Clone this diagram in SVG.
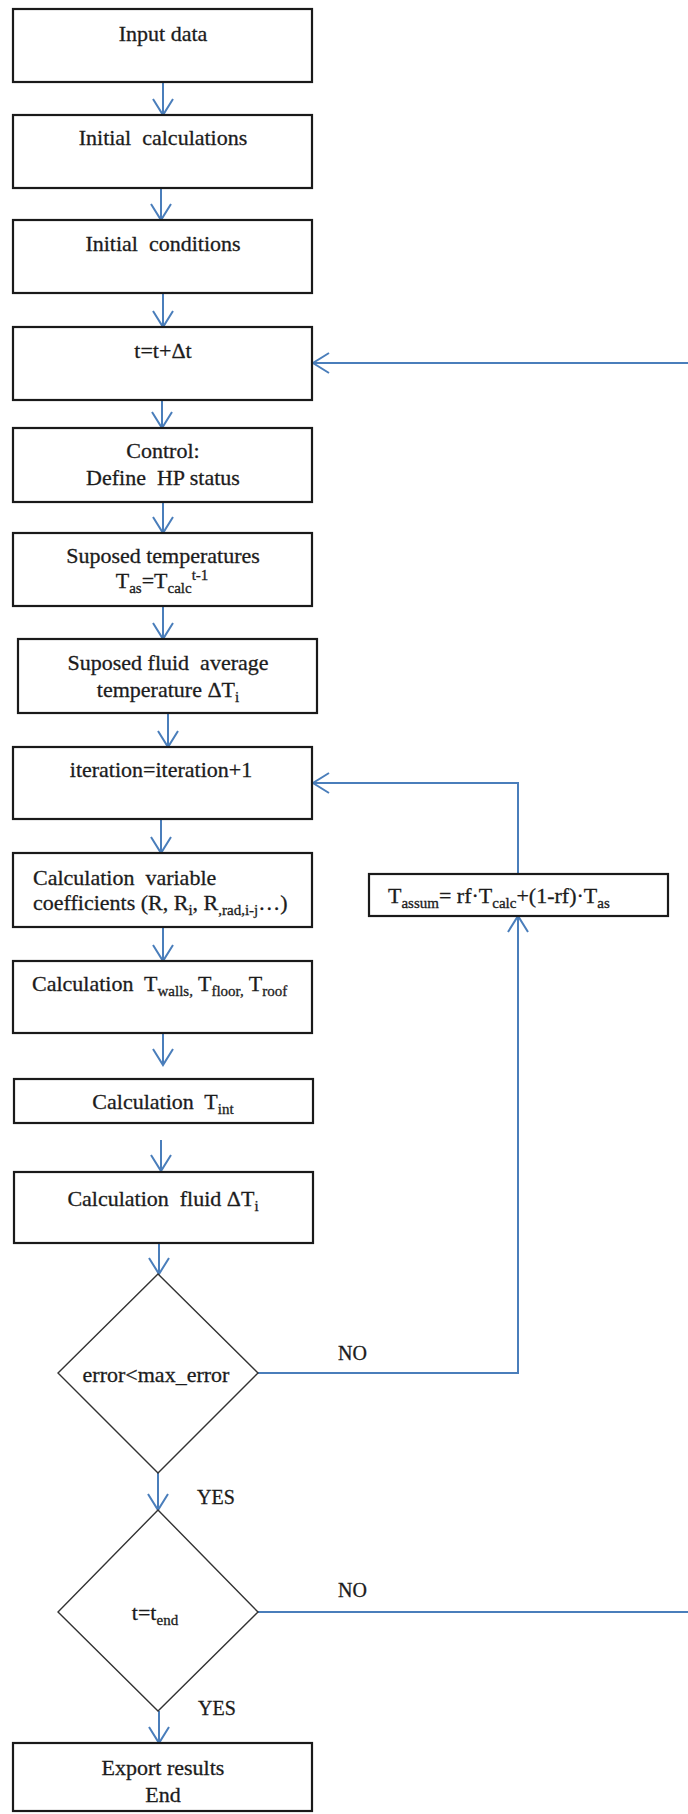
<svg xmlns="http://www.w3.org/2000/svg" width="688" height="1814" viewBox="0 0 688 1814">
<style>
.box{fill:#fff;stroke:#1a1a1a;stroke-width:2.2}
.dia{fill:#fff;stroke:#333;stroke-width:1.4}
text{font-family:'Liberation Serif','Times New Roman',serif;fill:#1c1c1c;stroke:#1c1c1c;stroke-width:0.3}
.t{font-size:22px}
.c{text-anchor:middle}
.lbl{font-size:20px}
.s{font-size:15px}
.conn{fill:none;stroke:#4a7ebb;stroke-width:2}
</style>
<defs>
<marker id="ah" markerUnits="userSpaceOnUse" markerWidth="22" markerHeight="24" refX="18" refY="12" orient="auto" viewBox="0 0 22 24">
<path d="M2,2 L18,12 L2,22" fill="none" stroke="#4a7ebb" stroke-width="2"/>
</marker>
</defs>
<rect width="688" height="1814" fill="#fff"/>

<g id="connectors">
<line class="conn" x1="163" y1="82" x2="163" y2="115" marker-end="url(#ah)"/>
<line class="conn" x1="161" y1="188" x2="161" y2="220" marker-end="url(#ah)"/>
<line class="conn" x1="163" y1="293" x2="163" y2="327" marker-end="url(#ah)"/>
<line class="conn" x1="162" y1="400" x2="162" y2="428" marker-end="url(#ah)"/>
<line class="conn" x1="163" y1="502" x2="163" y2="533" marker-end="url(#ah)"/>
<line class="conn" x1="163" y1="606" x2="163" y2="639" marker-end="url(#ah)"/>
<line class="conn" x1="168" y1="713" x2="168" y2="747" marker-end="url(#ah)"/>
<line class="conn" x1="161" y1="819" x2="161" y2="853" marker-end="url(#ah)"/>
<line class="conn" x1="163" y1="927" x2="163" y2="961" marker-end="url(#ah)"/>
<line class="conn" x1="163" y1="1033" x2="163" y2="1065" marker-end="url(#ah)"/>
<line class="conn" x1="161" y1="1140" x2="161" y2="1171" marker-end="url(#ah)"/>
<line class="conn" x1="159" y1="1243" x2="159" y2="1274" marker-end="url(#ah)"/>
<line class="conn" x1="158" y1="1473" x2="158" y2="1510" marker-end="url(#ah)"/>
<line class="conn" x1="159" y1="1711" x2="159" y2="1743" marker-end="url(#ah)"/>
<line class="conn" x1="688" y1="363" x2="313" y2="363" marker-end="url(#ah)"/>
<path class="conn" d="M258,1373 H518 V916" marker-end="url(#ah)"/>
<path class="conn" d="M518,874 V783 H313" marker-end="url(#ah)"/>
<line class="conn" x1="258" y1="1612" x2="688" y2="1612"/>
<text class="lbl" x="338" y="1360">NO</text>
<text class="lbl" x="338" y="1597">NO</text>
<text class="lbl" x="197" y="1504">YES</text>
<text class="lbl" x="198" y="1715">YES</text>
</g>

<g id="n1"><rect class="box" x="13" y="9" width="299" height="73"/><text class="t c" x="163" y="41">Input data</text></g>
<g id="n2"><rect class="box" x="13" y="115" width="299" height="73"/><text class="t c" x="163" y="145" xml:space="preserve">Initial  calculations</text></g>
<g id="n3"><rect class="box" x="13" y="220" width="299" height="73"/><text class="t c" x="163" y="251" xml:space="preserve">Initial  conditions</text></g>
<g id="n4"><rect class="box" x="13" y="327" width="299" height="73"/><text class="t c" x="163" y="358">t=t+Δt</text></g>
<g id="n5"><rect class="box" x="13" y="428" width="299" height="74"/><text class="t c" x="163" y="458">Control:</text><text class="t c" x="163" y="485" xml:space="preserve">Define  HP status</text></g>
<g id="n6"><rect class="box" x="13" y="533" width="299" height="73"/><text class="t c" x="163" y="563">Suposed temperatures</text><text class="t c" x="162" y="588">T<tspan class="s" dy="5">as</tspan><tspan dy="-5">=T</tspan><tspan class="s" dy="5">calc</tspan><tspan class="s" dy="-13">t-1</tspan></text></g>
<g id="n7"><rect class="box" x="18" y="639" width="299" height="74"/><text class="t c" x="168" y="670" xml:space="preserve">Suposed fluid  average</text><text class="t c" x="168" y="697">temperature ΔT<tspan class="s" dy="5">i</tspan></text></g>
<g id="n8"><rect class="box" x="13" y="747" width="299" height="72"/><text class="t c" x="161" y="777">iteration=iteration+1</text></g>
<g id="n9"><rect class="box" x="13" y="853" width="299" height="74"/><text class="t" x="33" y="885" xml:space="preserve">Calculation  variable</text><text class="t" x="33" y="910">coefficients (R, R<tspan class="s" dy="5">i</tspan><tspan dy="-5">, R</tspan><tspan class="s" dy="5">,rad,i-j</tspan><tspan dy="-5">…)</tspan></text></g>
<g id="n10"><rect class="box" x="13" y="961" width="299" height="72"/><text class="t" x="32" y="991" xml:space="preserve">Calculation  T<tspan class="s" dy="5">walls,</tspan><tspan dy="-5"> T</tspan><tspan class="s" dy="5">floor,</tspan><tspan dy="-5"> T</tspan><tspan class="s" dy="5">roof</tspan></text></g>
<g id="n11"><rect class="box" x="14" y="1079" width="299" height="44"/><text class="t c" x="163" y="1109" xml:space="preserve">Calculation  T<tspan class="s" dy="5">int</tspan></text></g>
<g id="n12"><rect class="box" x="14" y="1172" width="299" height="71"/><text class="t c" x="163" y="1206" xml:space="preserve">Calculation  fluid ΔT<tspan class="s" dy="5">i</tspan></text></g>
<g id="n13"><polygon class="dia" points="158,1274 258,1373 158,1473 58,1373"/><text class="t c" x="156" y="1382">error&lt;max_error</text></g>
<g id="n14"><polygon class="dia" points="158,1510 258,1612 158,1711 58,1612"/><text class="t c" x="155" y="1620">t=t<tspan class="s" dy="5">end</tspan></text></g>
<g id="n15"><rect class="box" x="13" y="1743" width="299" height="68"/><text class="t c" x="163" y="1775">Export results</text><text class="t c" x="163" y="1802">End</text></g>
<g id="n16"><rect class="box" x="369" y="874" width="299" height="42"/><text class="t" x="388" y="903">T<tspan class="s" dy="5">assum</tspan><tspan dy="-5">= rf·T</tspan><tspan class="s" dy="5">calc</tspan><tspan dy="-5">+(1-rf)·T</tspan><tspan class="s" dy="5">as</tspan></text></g>
</svg>
